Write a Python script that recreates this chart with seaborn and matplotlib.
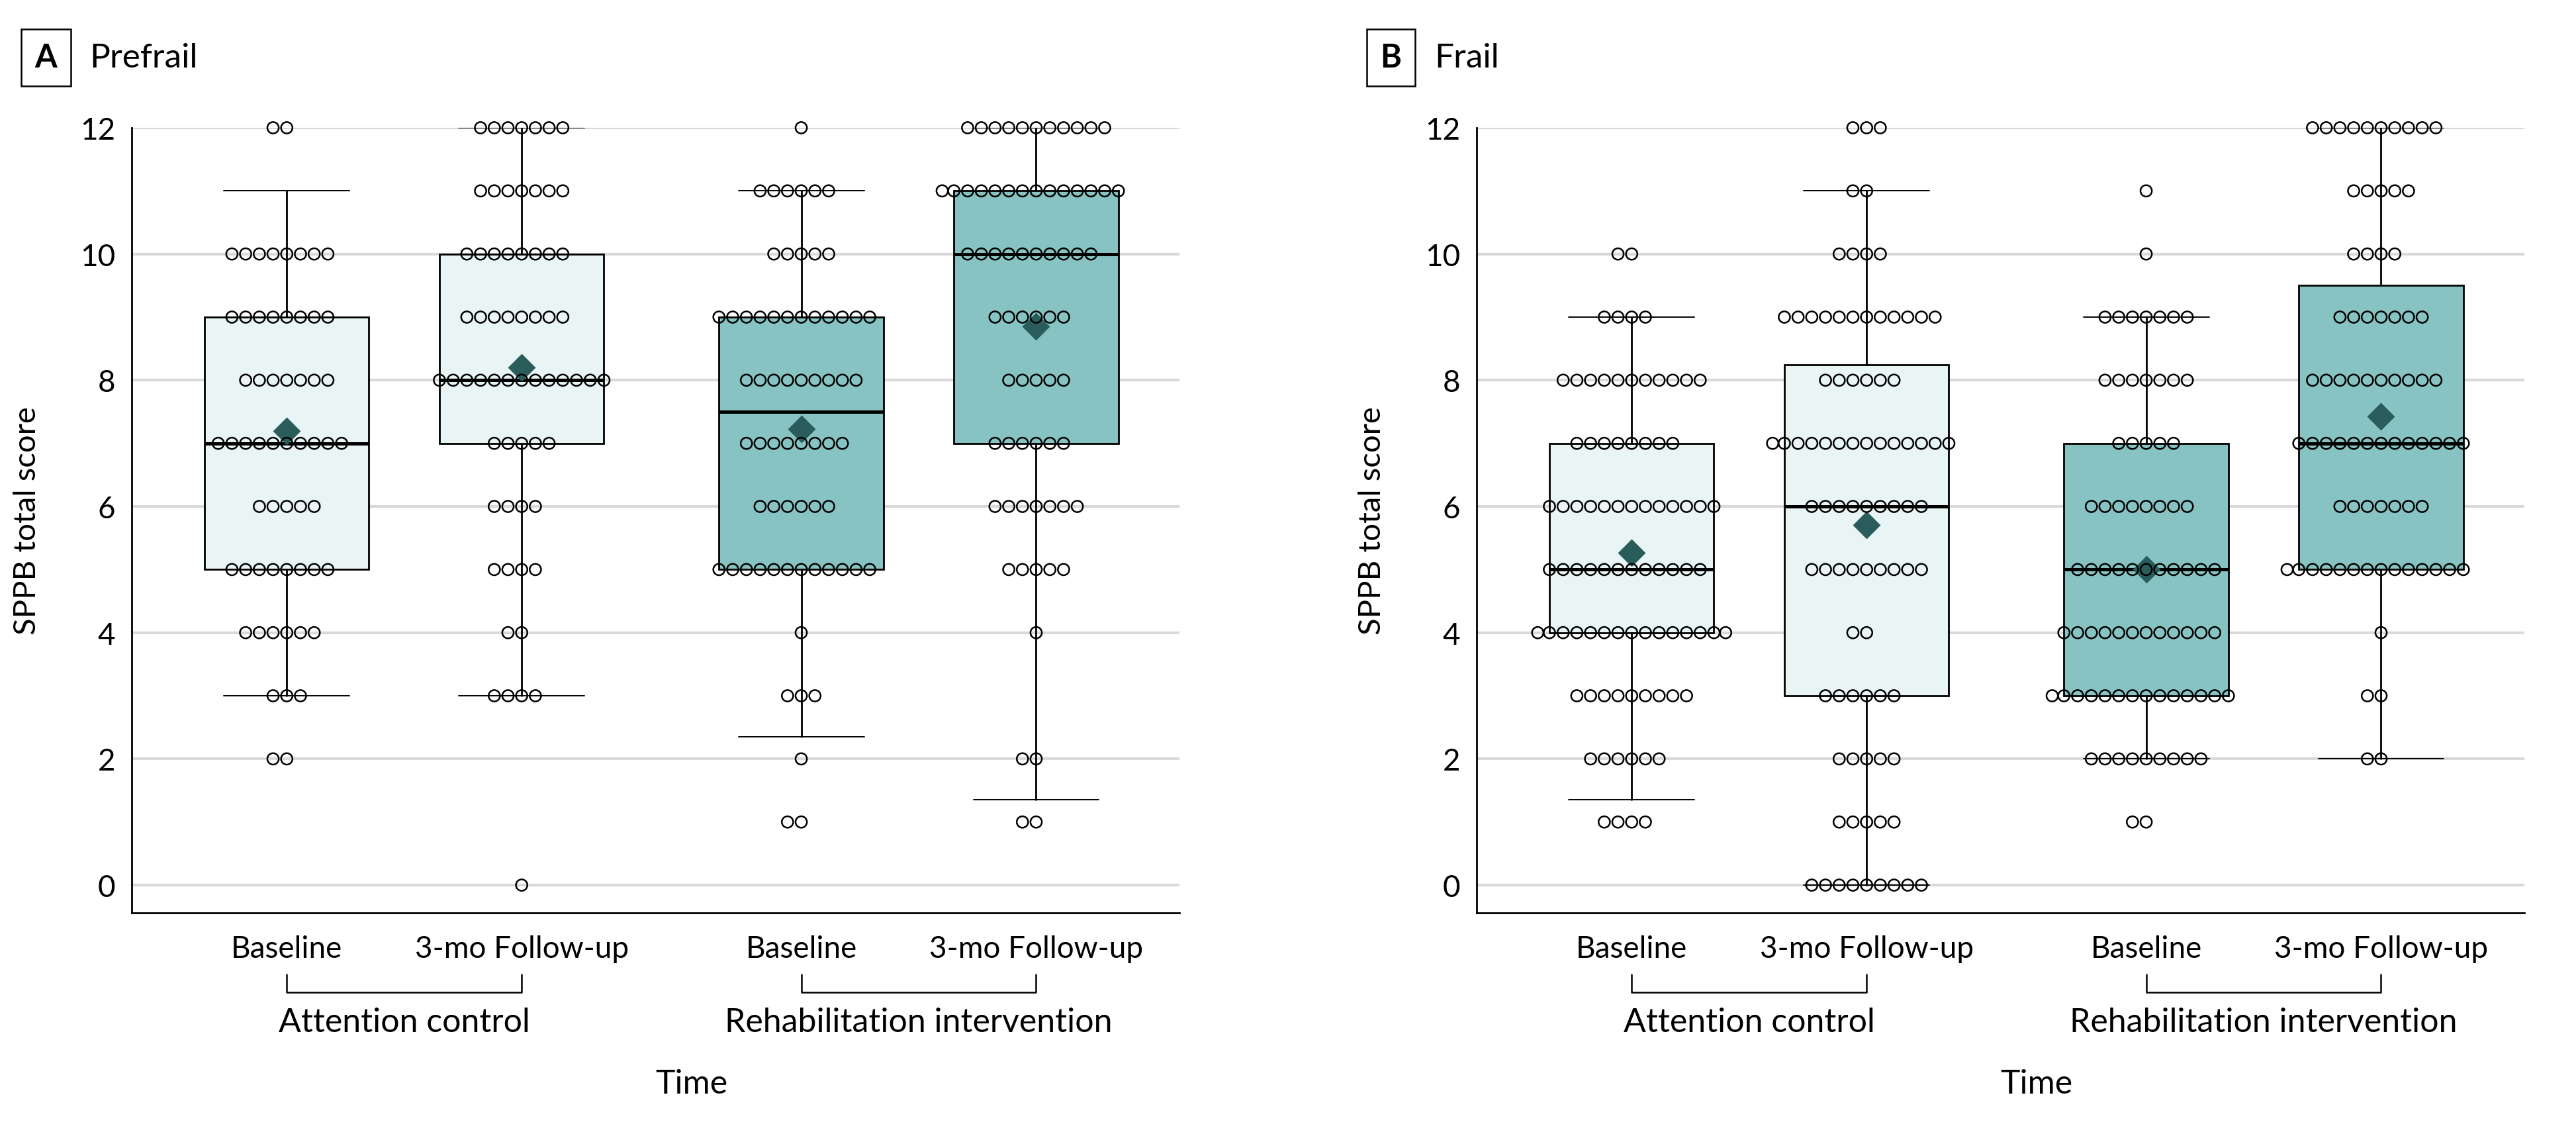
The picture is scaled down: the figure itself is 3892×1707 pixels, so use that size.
import numpy as np
import pandas as pd
import matplotlib
matplotlib.use("Agg")
import matplotlib.pyplot as plt
import matplotlib.transforms as mtransforms
import seaborn as sns

# ---------------- data ----------------
scores = list(range(0, 13))
time_labels = ["Baseline", "3-mo Follow-up", "Baseline", "3-mo Follow-up"]
group_labels = ["Attention control", "Rehabilitation intervention"]
panel_letters = ["A", "B"]
panel_titles = ["Prefrail", "Frail"]

# number of participants at each SPPB score 0..12
prefrail_ac_base   = [0, 0, 2, 3, 6, 8, 5, 10, 7, 8, 8, 0, 2]
prefrail_ac_follow = [1, 0, 0, 4, 2, 4, 4, 5, 13, 8, 8, 7, 7]
prefrail_ri_base   = [0, 2, 1, 3, 1, 12, 6, 8, 9, 12, 5, 6, 1]
prefrail_ri_follow = [0, 2, 2, 0, 1, 5, 7, 6, 5, 6, 10, 14, 11]
frail_ac_base      = [0, 4, 6, 9, 15, 12, 13, 8, 11, 4, 2, 0, 0]
frail_ac_follow    = [9, 5, 5, 6, 2, 9, 9, 14, 6, 12, 4, 2, 3]
frail_ri_base      = [0, 2, 9, 14, 12, 11, 8, 5, 7, 7, 1, 1, 0]
frail_ri_follow    = [0, 0, 2, 2, 1, 14, 7, 13, 10, 7, 4, 5, 10]

# box summaries (as printed in the figure)
prefrail_q1     = [5, 7, 5, 7]
prefrail_median = [7, 8, 7.5, 10]
prefrail_q3     = [9, 10, 9, 11]
prefrail_whislo = [3, 3, 2.35, 1.35]
prefrail_whishi = [11, 12, 11, 12]
prefrail_mean   = [7.2, 8.2, 7.23, 8.85]

frail_q1     = [4, 3, 3, 5]
frail_median = [5, 6, 5, 7]
frail_q3     = [7, 8.25, 7, 9.5]
frail_whislo = [1.35, 0, 2, 2]
frail_whishi = [9, 11, 9, 12]
frail_mean   = [5.27, 5.71, 5.0, 7.43]

panel_counts = [
    [prefrail_ac_base, prefrail_ac_follow, prefrail_ri_base, prefrail_ri_follow],
    [frail_ac_base, frail_ac_follow, frail_ri_base, frail_ri_follow],
]
panel_box = [
    (prefrail_q1, prefrail_median, prefrail_q3, prefrail_whislo, prefrail_whishi, prefrail_mean),
    (frail_q1, frail_median, frail_q3, frail_whislo, frail_whishi, frail_mean),
]

# ---------------- style ----------------
positions = [0, 1, 2.19, 3.19]
box_colors = ["#E9F4F4", "#E9F4F4", "#86C3C2", "#86C3C2"]
mean_color = "#2B5C5C"
grid_color = "#D9D9D9"

sns.set_theme(style="white")
plt.rcParams["font.family"] = ["Lato", "DejaVu Sans"]

W, H, DPI = 3892, 1708, 200
fig = plt.figure(figsize=(W / DPI, H / DPI), dpi=DPI)

ax_lefts = [199 / W, 2231 / W]
ax_w = (1782 - 199) / W
ax_b = 1 - 1380 / H
ax_h = (1380 - 194) / H

label_box_x = [69.5 / W, 2101.5 / W]
title_x = [135 / W, 2167 / W]
top_y = 1 - 88 / H

for p in range(2):
    ax = fig.add_axes([ax_lefts[p], ax_b, ax_w, ax_h])

    # long-form data frame for the swarm
    rows = []
    for g, counts in enumerate(panel_counts[p]):
        vals = np.repeat(scores, counts)
        rows.append(pd.DataFrame({"pos": positions[g], "score": vals}))
    df = pd.concat(rows, ignore_index=True)

    q1, med, q3, lo, hi, mn = panel_box[p]
    stats = [dict(q1=q1[i], med=med[i], q3=q3[i], whislo=lo[i], whishi=hi[i],
                  mean=mn[i], fliers=[]) for i in range(4)]
    bp = ax.bxp(stats, positions=positions, widths=0.70, capwidths=0.535,
                patch_artist=True, showmeans=True, showfliers=False,
                manage_ticks=False,
                boxprops=dict(edgecolor="black", linewidth=1.0),
                medianprops=dict(color="black", linewidth=1.8),
                whiskerprops=dict(color="black", linewidth=1.0),
                capprops=dict(color="black", linewidth=0.7),
                meanprops=dict(marker="D", markersize=9.5, markerfacecolor=mean_color,
                               markeredgecolor=mean_color),
                zorder=2)
    for patch, c in zip(bp["boxes"], box_colors):
        patch.set_facecolor(c)

    n_before = len(ax.collections)
    sns.swarmplot(data=df, x="pos", y="score", native_scale=True, orient="x",
                  size=6.2, color="white", linewidth=0.9, edgecolor="black",
                  ax=ax, zorder=4, warn_thresh=1.0)
    for coll in ax.collections[n_before:]:
        coll.set_facecolor("none")
        coll.set_edgecolor("black")
        coll.set_linewidth(0.9)
        coll.set_clip_on(False)

    ax.set_xlim(-0.66, 3.80)
    ax.set_ylim(-0.44, 12)
    ax.set_yticks(range(0, 13, 2))
    ax.set_xticks(positions)
    ax.set_xticklabels(time_labels)
    ax.yaxis.grid(True, color=grid_color, linewidth=1.5)
    ax.xaxis.grid(False)
    ax.set_axisbelow(True)
    for s in ["top", "right"]:
        ax.spines[s].set_visible(False)
    for s in ["left", "bottom"]:
        ax.spines[s].set_color("black")
        ax.spines[s].set_linewidth(1.0)
    ax.tick_params(axis="both", direction="out", length=6, width=0.9, color="black",
                   labelsize=16.5, labelcolor="black")
    ax.tick_params(axis="y", pad=3)
    ax.tick_params(axis="x", pad=6)
    ax.set_xlabel("")
    ax.set_ylabel("SPPB total score", fontsize=17, color="black")
    ax.yaxis.set_label_coords(-0.0865, 0.5)

    trans = mtransforms.blended_transform_factory(ax.transData, ax.transAxes)
    for k, lab in enumerate(group_labels):
        a, b = positions[2 * k], positions[2 * k + 1]
        ax.plot([a, a, b, b], [-0.078, -0.101, -0.101, -0.078], transform=trans,
                color="black", lw=0.9, clip_on=False)
        ax.text((a + b) / 2, -0.139, lab, transform=trans, ha="center", va="center",
                fontsize=18, color="black")
    ax.text(0.534, -0.2175, "Time", transform=ax.transAxes, ha="center", va="center",
            fontsize=18, color="black")

    fig.text(label_box_x[p], top_y, panel_letters[p], ha="center", va="center",
             fontsize=17.5, fontweight="bold", color="black",
             bbox=dict(boxstyle="square,pad=0.42", facecolor="white",
                       edgecolor="black", linewidth=0.9))
    fig.text(title_x[p], top_y, panel_titles[p], ha="left", va="center",
             fontsize=18.5, color="black")

fig.savefig("out.png", dpi=DPI, facecolor="white")
